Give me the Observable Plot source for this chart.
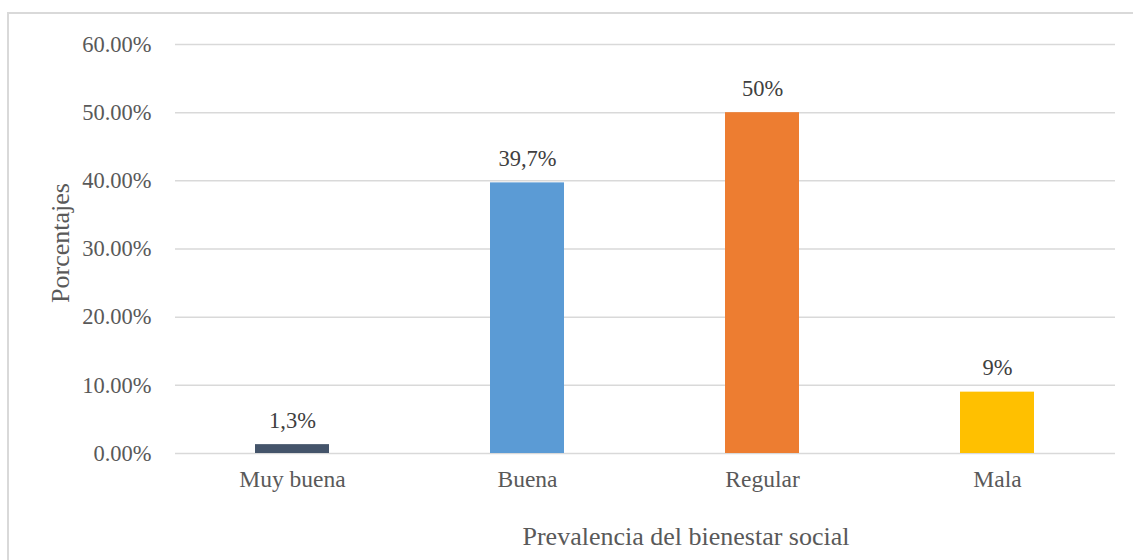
<!DOCTYPE html>
<html>
<head>
<meta charset="utf-8">
<script src="https://cdn.jsdelivr.net/npm/d3@7"></script>
<script src="https://cdn.jsdelivr.net/npm/@observablehq/plot@0.6"></script>
<style>
  html, body { margin: 0; padding: 0; background: #fff; overflow: hidden; }
  #wrap { position: relative; width: 1133px; height: 560px; overflow: hidden; }
  #frame { position: absolute; left: 7px; top: 12px; width: 1300px; height: 700px; border: 2px solid #d9d9d9; box-sizing: border-box; }
  #chart { position: absolute; left: 0; top: 0; }
</style>
</head>
<body>
<div id="wrap"><div id="frame"></div><div id="chart"></div></div>
<script>
const categories = ["Muy buena", "Buena", "Regular", "Mala"];
const values = [0.013, 0.397, 0.50, 0.09];
const valueLabels = ["1,3%", "39,7%", "50%", "9%"];
const colors = ["#44546a", "#5b9bd5", "#ed7d31", "#ffc000"];
const yTicks = [0, 0.1, 0.2, 0.3, 0.4, 0.5, 0.6];
const xTitle = "Prevalencia del bienestar social";
const yTitle = "Porcentajes";

const data = categories.map((c, i) => ({cat: c, value: values[i], label: valueLabels[i]}));
const font = "'Liberation Serif', 'Times New Roman', serif";

const chart = Plot.plot({
  width: 1133,
  height: 560,
  marginLeft: 175,
  marginRight: 18,
  marginTop: 44,
  marginBottom: 107,
  style: {fontFamily: font, background: "transparent", overflow: "visible"},
  x: {domain: categories, paddingInner: 0.685, paddingOuter: 0.3425, label: null},
  y: {domain: [0, 0.6], label: null},
  color: {domain: categories, range: colors},
  marks: [
    Plot.ruleY(yTicks, {stroke: "#d9d9d9", strokeWidth: 1.5}),
    Plot.barY(data, {x: "cat", y: "value", fill: "cat"}),
    Plot.text(data, {x: "cat", y: "value", text: "label", dy: -24, lineAnchor: "middle", fontSize: 22.5, fill: "#404040"}),
    Plot.axisY({ticks: yTicks, tickFormat: d3.format(".2%"), tickSize: 0, tickPadding: 24, fontSize: 22.5, color: "#595959", label: null}),
    Plot.axisX({tickSize: 0, tickPadding: 17, fontSize: 23.5, color: "#595959", label: null}),
    Plot.text([xTitle], {frameAnchor: "bottom", textAnchor: "middle", dx: 40.5, dy: 83.5, lineAnchor: "middle", fontSize: 26, fill: "#595959"}),
    Plot.text([yTitle], {frameAnchor: "left", textAnchor: "middle", rotate: -90, dx: -115, dy: -6, lineAnchor: "middle", fontSize: 26, fill: "#595959"})
  ]
});
document.getElementById("chart").appendChild(chart);
</script>
</body>
</html>
